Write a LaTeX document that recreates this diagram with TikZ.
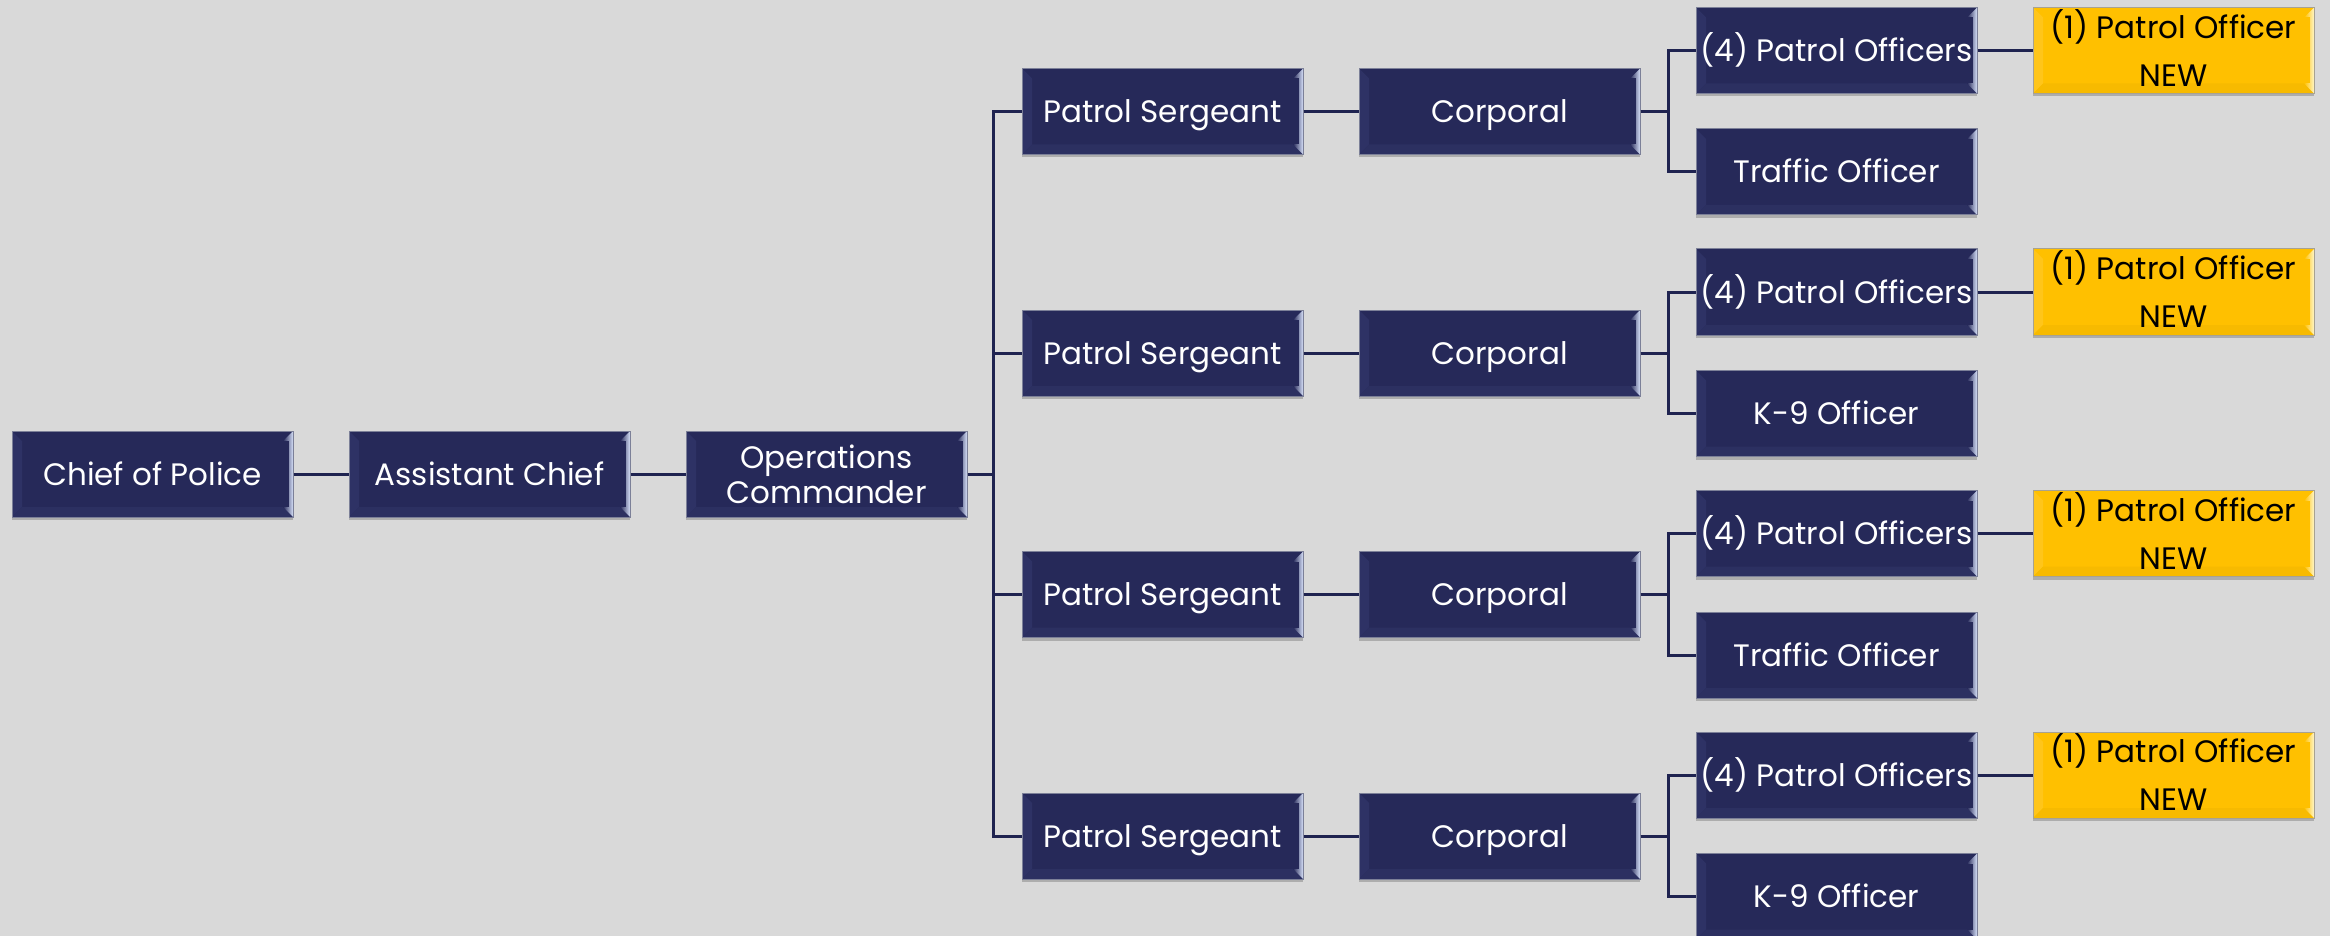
\documentclass[tikz,border=0pt]{standalone}
\usepackage{fontspec}
\setmainfont{Poppins}
\usetikzlibrary{shadows}

\definecolor{bg}{HTML}{D9D9D9}
\definecolor{navy}{HTML}{262959}
\definecolor{navytop}{HTML}{6066A0}
\definecolor{navyleft}{HTML}{2E3265}
\definecolor{navybot}{HTML}{2C3061}
\definecolor{navyright}{HTML}{D6E0F8}
\definecolor{navyedge}{HTML}{7C8098}
\definecolor{gold}{HTML}{FFC000}
\definecolor{goldtop}{HTML}{FFD650}
\definecolor{goldleft}{HTML}{FFC51A}
\definecolor{goldbot}{HTML}{F7BA00}
\definecolor{goldright}{HTML}{FFF6C8}
\definecolor{goldedge}{HTML}{A8A290}
\definecolor{wire}{HTML}{1F2350}

% bevelled box: #1 face, #2 top, #3 left, #4 bottom, #5 right highlight
\tikzset{
  bevel/.style n args={5}{
    fill=#1,
    path picture={
      \shade[top color=#1, middle color=#2, bottom color=#1]
        (path picture bounding box.north west) -- (path picture bounding box.north east)
        -- ([xshift=-10pt,yshift=-10pt]path picture bounding box.north east)
        -- ([xshift=10pt,yshift=-10pt]path picture bounding box.north west) -- cycle;
      \fill[#3]
        (path picture bounding box.north west)
        -- ([xshift=10pt,yshift=-10pt]path picture bounding box.north west)
        -- ([xshift=10pt,yshift=10pt]path picture bounding box.south west)
        -- (path picture bounding box.south west) -- cycle;
      \fill[#4]
        (path picture bounding box.south west)
        -- ([xshift=10pt,yshift=10pt]path picture bounding box.south west)
        -- ([xshift=-10pt,yshift=10pt]path picture bounding box.south east)
        -- (path picture bounding box.south east) -- cycle;
      \shade[left color=#1, right color=#5]
        (path picture bounding box.north east)
        -- ([xshift=-10pt,yshift=-10pt]path picture bounding box.north east)
        -- ([xshift=-10pt,yshift=10pt]path picture bounding box.south east)
        -- (path picture bounding box.south east) -- cycle;
      \fill[#1]
        ([xshift=-4pt,yshift=-10pt]path picture bounding box.north east)
        rectangle ([xshift=-10pt,yshift=10pt]path picture bounding box.south east);
    }},
  card/.style={minimum width=281pt, minimum height=86pt, inner sep=0pt,
    align=center, line width=1pt,
    drop shadow={shadow xshift=0pt, shadow yshift=-3pt, opacity=0.2, fill=black},
    font=\fontsize{31}{35}\selectfont},
  navybox/.style={card, draw=navyedge, text=white,
    text height=26pt, text depth=4pt,
    bevel={navy}{navytop}{navyleft}{navybot}{navyright}},
  goldbox/.style={card, draw=goldedge, text=black,
    font=\fontsize{31}{48}\selectfont,
    bevel={gold}{goldtop}{goldleft}{goldbot}{goldright}},
  wire/.style={draw=wire, line width=3pt},
}

% two-line label of the new-officer boxes
\newcommand\newofficer{\smash{\raisebox{-8.5pt}{%
  \begin{tabular}{@{}c@{}}(1) Patrol Officer\\NEW\end{tabular}}}}

\begin{document}
\begin{tikzpicture}[x=1pt, y=-1pt]
  \fill[bg] (0,0) rectangle (2330,936);
  \useasboundingbox (0,0) rectangle (2330,936);

  % command chain
  \node[navybox] (chief) at (152.5,474) {Chief of Police};
  \node[navybox] (asst)  at (489.5,474) {Assistant Chief};
  \node[navybox, text height=, text depth=] (ops) at (826.5,474) {Operations\\Commander};
  \coordinate (bus) at (993,474);

  \draw[wire] (chief.east) -- (asst.west);
  \draw[wire] (asst.east) -- (ops.west);
  \draw[wire] (ops.east) -- (bus);

  % four patrol squads
  \foreach \g/\spec in {0/Traffic Officer, 1/K-9 Officer, 2/Traffic Officer, 3/K-9 Officer} {
    \pgfmathsetmacro\ys{111.5+241.5*\g}
    \pgfmathsetmacro\yp{50.5+241.5*\g}
    \pgfmathsetmacro\yq{172+241.5*\g}
    \node[navybox] (sgt\g) at (1162.5,\ys) {Patrol Sergeant};
    \node[navybox] (cpl\g) at (1499.5,\ys) {Corporal};
    \node[navybox] (po\g)  at (1836.5,\yp) {(4) Patrol Officers};
    \node[navybox] (sp\g)  at (1836.5,\yq) {\spec};
    \node[goldbox] (new\g) at (2173.5,\yp) {\newofficer};

    \draw[wire] (bus) |- (sgt\g.west);
    \draw[wire] (sgt\g.east) -- (cpl\g.west);
    \draw[wire] (cpl\g.east) -- ++(28,0) |- (po\g.west);
    \draw[wire] (cpl\g.east) -- ++(28,0) |- (sp\g.west);
    \draw[wire] (po\g.east) -- (new\g.west);
  }
\end{tikzpicture}
\end{document}
